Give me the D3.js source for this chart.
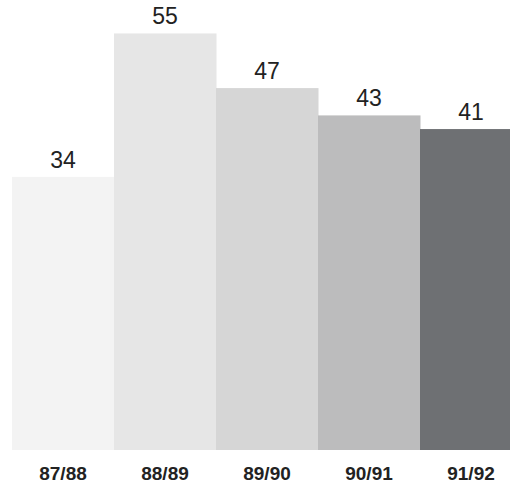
<!DOCTYPE html>
<html>
<head>
<meta charset="utf-8">
<script src="https://cdn.jsdelivr.net/npm/d3@7"></script>
<style>
  html, body { margin: 0; padding: 0; background: #fff; }
  svg { display: block; }
</style>
</head>
<body>
<div id="chart"></div>
<script>
const seasons = ["87/88", "88/89", "89/90", "90/91", "91/92"];
const values = [34, 55, 47, 43, 41];
const shades = ["#f3f3f3", "#e6e6e6", "#d6d6d6", "#bcbcbd", "#6e7073"];

document.addEventListener("DOMContentLoaded", () => {
    const width = 510, height = 491;
    const baseline = 450;

    const svg = d3.select("#chart").append("svg")
        .attr("width", width)
        .attr("height", height);

    // bars touch each other, last one runs off the right edge
    const x = d3.scaleBand()
        .domain(seasons)
        .range([12, 522])
        .padding(0);

    // original artwork isn't drawn from zero, so the value axis starts a bit below it
    const y = d3.scaleLinear()
        .domain([-6, 59.9])
        .range([baseline, 0]);

    const rows = seasons.map((s, i) => ({ season: s, value: values[i], color: shades[i] }));

    svg.selectAll("rect.bar")
        .data(rows)
        .enter().append("rect")
        .attr("class", "bar")
        .attr("x", d => x(d.season))
        .attr("width", x.bandwidth() + 0.5)
        .attr("y", d => y(d.value))
        .attr("height", d => baseline - y(d.value))
        .style("fill", d => d.color);

    svg.selectAll("text.val")
        .data(rows)
        .enter().append("text")
        .attr("class", "val")
        .attr("x", d => x(d.season) + x.bandwidth() / 2)
        .attr("y", d => y(d.value) - 9)
        .attr("text-anchor", "middle")
        .style("font-family", "'Liberation Sans', Arial, sans-serif")
        .style("font-size", "23px")
        .style("fill", "#222")
        .text(d => d.value);

    const axis = svg.append("g")
        .attr("transform", `translate(0,${baseline})`)
        .call(d3.axisBottom(x).tickSize(0).tickPadding(17));

    axis.select(".domain").remove();
    axis.selectAll("text")
        .style("font-family", "'Liberation Sans', Arial, sans-serif")
        .style("font-size", "19px")
        .style("font-weight", "bold")
        .style("fill", "#222");
});
</script>
</body>
</html>
